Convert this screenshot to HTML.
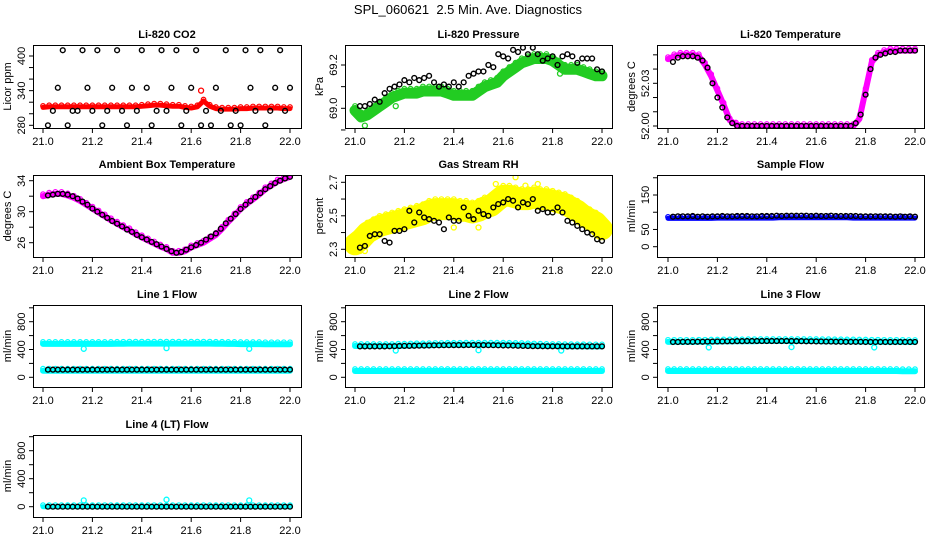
<!DOCTYPE html>
<html><head><meta charset="utf-8"><style>
html,body{margin:0;padding:0;background:#fff;}
svg{display:block;font-family:"Liberation Sans",sans-serif;}
</style></head><body>
<svg id="chart" width="936" height="540" viewBox="0 0 936 540" xmlns="http://www.w3.org/2000/svg">
<rect width="936" height="540" fill="#fff"/>
<text x="468" y="14" text-anchor="middle" font-size="13" style="white-space:pre" xml:space="preserve">SPL_060621  2.5 Min. Ave. Diagnostics</text>
</svg>
<script>
// shared x values
const bandT = [21.000,21.025,21.050,21.075,21.100,21.125,21.150,21.175,21.200,21.225,21.250,21.275,21.300,21.325,21.350,21.375,21.400,21.425,21.450,21.475,21.500,21.525,21.550,21.575,21.600,21.625,21.650,21.675,21.700,21.725,21.750,21.775,21.800,21.825,21.850,21.875,21.900,21.925,21.950,21.975,22.000];
const blackT = [21.02,21.04,21.06,21.08,21.10,21.12,21.14,21.16,21.18,21.20,21.22,21.24,21.26,21.28,21.30,21.32,21.34,21.36,21.38,21.40,21.42,21.44,21.46,21.48,21.50,21.52,21.54,21.56,21.58,21.60,21.62,21.64,21.66,21.68,21.70,21.72,21.74,21.76,21.78,21.80,21.82,21.84,21.86,21.88,21.90,21.92,21.94,21.96,21.98,22.00];
const xTicks = [21.0,21.2,21.4,21.6,21.8,22.0];
const xTickLabels = ["21.0","21.2","21.4","21.6","21.8","22.0"];
const outlierT = [21.165,21.5,21.835];

// panel series
const co2Band = [311,312,312,312,312,312,312,312,312,312, 312,312,312,312,312,312,313,314,315,315, 314,313,313,311,310,312,322,313,309,308, 308,308,309,309,310,310,310,310,310,309, 309];
const co2Black = [280,305,345,410,280,305,305,410,345,305, 410,280,305,345,410,305,280,345,305,410, 345,280,305,410,305,345,410,280,305,345, 410,280,305,280,345,305,410,280,305,280, 410,345,305,410,280,305,345,410,305,345];
const pressBand = [68.99,68.96,68.97,68.99,69.01,69.03,69.05,69.06,69.07,69.07, 69.07,69.08,69.08,69.08,69.08,69.07,69.06,69.06,69.06,69.06, 69.08,69.10,69.11,69.12,69.15,69.17,69.19,69.21,69.22,69.23, 69.23,69.23,69.22,69.20,69.18,69.18,69.18,69.17,69.16,69.15, 69.15];
const pressBlack = [69.01,69.01,69.02,69.04,69.03,69.07,69.09,69.10,69.11,69.13, 69.12,69.14,69.13,69.14,69.15,69.12,69.10,69.11,69.10,69.12, 69.10,69.12,69.15,69.16,69.17,69.17,69.20,69.19,69.25,69.24, 69.23,69.27,69.26,69.28,69.25,69.28,69.25,69.22,69.23,69.24, 69.20,69.24,69.25,69.24,69.21,69.23,69.23,69.23,69.18,69.17];
const tempBand = [52.047,52.049,52.050,52.050,52.050,52.049,52.043,52.035,52.025,52.015, 52.004,52.001,52.0,52.0,52.0,52.0,52.0,52.0,52.0,52.0, 52.0,52.0,52.0,52.0,52.0,52.0,52.0,52.0,52.0,52.0, 52.0,52.005,52.025,52.045,52.050,52.052,52.053,52.053,52.053,52.053, 52.053];
const tempBlack = [52.045,52.048,52.049,52.049,52.049,52.048,52.046,52.041,52.030,52.020, 52.013,52.006,52.002,52.0,52.0,52.0,52.0,52.0,52.0,52.0, 52.0,52.0,52.0,52.0,52.0,52.0,52.0,52.0,52.0,52.0, 52.0,52.0,52.0,52.0,52.0,52.0,52.0,52.002,52.008,52.022, 52.040,52.048,52.050,52.051,52.052,52.052,52.053,52.053,52.053,52.053];
const ambBand = [32.0,32.2,32.3,32.3,32.1,31.8,31.4,30.9,30.4,29.9, 29.4,28.9,28.45,28.0,27.6,27.1,26.7,26.3,25.9,25.5, 25.2,24.7,24.7,24.9,25.4,25.7,26.0,26.5,27.0,27.8, 28.7,29.5,30.35,31.0,31.6,32.2,32.9,33.4,33.9,34.2, 34.5];
const ambBlack = [32.1,32.2,32.3,32.3,32.2,32.0,31.7,31.3,30.9,30.4, 30.0,29.6,29.2,28.8,28.45,28.1,27.7,27.4,27.0,26.7, 26.4,26.1,25.8,25.5,25.2,24.9,24.7,24.8,25.1,25.4, 25.7,26.0,26.4,26.8,27.2,27.8,28.5,29.1,29.7,30.35, 30.9,31.4,31.9,32.4,32.9,33.3,33.7,34.0,34.3,34.5];
const rhBand = [2.33,2.36,2.40,2.42,2.44,2.45,2.46,2.47,2.48,2.49, 2.50,2.51,2.53,2.54,2.54,2.54,2.54,2.53,2.53,2.52, 2.53,2.55,2.56,2.59,2.62,2.62,2.61,2.60,2.60,2.61, 2.60,2.60,2.59,2.58,2.57,2.55,2.53,2.50,2.48,2.46, 2.42];
const rhBlack = [2.31,2.32,2.38,2.39,2.39,2.35,2.34,2.41,2.41,2.42, 2.53,2.46,2.52,2.49,2.48,2.47,2.46,2.42,2.49,2.47, 2.47,2.55,2.50,2.48,2.53,2.51,2.50,2.55,2.57,2.58, 2.60,2.59,2.55,2.58,2.57,2.60,2.53,2.54,2.52,2.52, 2.55,2.52,2.47,2.46,2.44,2.42,2.40,2.39,2.36,2.35];
const sampBand = [82,82,82,82,82,82,82,82,83,83, 83,83,83,83,83,83,83,83,84,84, 84,84,84,84,84,84,84,84,84,84, 83,83,83,83,83,83,83,83,83,83, 83];
const sampBlack = [87,88,88,88,89,87,88,87,88,88, 89,88,88,89,89,89,88,88,89,89, 89,90,89,90,90,90,90,90,89,90, 89,89,90,89,89,89,89,89,88,88, 88,88,88,88,88,87,88,87,88,87];
const l1Upper = [480,480,480,480,480,480,480,480,480,480, 480,480,482,483,485,485,485,485,485,485, 485,485,485,485,485,485,485,485,482,482, 480,480,478,478,478,478,476,476,476,476, 476];
const l1Lower = [95,95,95,95,95,95,95,95,95,95, 95,95,95,95,95,95,95,95,95,95, 95,95,95,95,95,95,95,95,95,95, 95,95,95,95,95,95,95,95,95,95, 95];
const l1Black = [110,110,110,110,110,110,110,110,110,110, 110,110,110,110,110,110,110,110,110,110, 110,110,110,110,110,110,110,110,110,110, 110,110,110,110,110,110,110,110,110,110, 110,110,110,110,110,110,110,110,110,110];
const l1Out = [410,420,410];
const l2Upper = [450,450,450,450,450,450,450,455,455,458, 460,460,462,465,465,468,468,468,470,470, 470,470,470,470,470,468,466,464,460,458, 455,452,450,450,448,448,446,446,445,445, 445];
const l2Lower = [90,90,90,90,90,90,90,90,90,90, 90,90,90,90,90,90,90,90,90,90, 90,90,90,90,90,90,90,90,90,90, 90,90,90,90,90,90,90,90,90,90, 90];
const l2Black = [445,445,445,445,445,445,446,448,450,452, 452,454,455,456,458,460,460,462,462,463, 463,463,464,464,464,463,462,462,460,458, 458,456,454,452,450,448,448,447,446,446, 446,446,445,445,445,445,445,445,445,445];
const l2Out = [385,390,385];
const l3Upper = [510,510,510,510,510,512,512,514,514,516, 516,518,518,520,520,522,522,522,522,522, 522,522,522,522,522,520,520,518,518,516, 516,514,514,512,512,510,510,510,510,508, 508];
const l3Lower = [90,90,90,90,90,90,90,90,90,90, 90,90,90,90,90,90,90,90,90,90, 90,90,90,90,90,90,90,90,90,90, 90,90,90,90,90,90,90,90,88,88, 88];
const l3Black = [508,508,510,510,510,512,512,514,514,516, 516,518,518,520,520,522,522,522,522,522, 522,522,522,522,522,520,520,518,518,516, 516,514,514,512,512,510,510,510,510,508, 508,508,508,508,508,508,508,508,508,508];
const l3Out = [430,435,430];
const l4Band = [0,0,0,0,0,0,0,0,0,0, 0,0,0,0,0,0,0,0,0,0, 0,0,0,0,0,0,0,0,0,0, 0,0,0,0,0,0,0,0,0,0, 0];
const l4Black = [0,0,0,0,0,0,0,0,0,0, 0,0,0,0,0,0,0,0,0,0, 0,0,0,0,0,0,0,0,0,0, 0,0,0,0,0,0,0,0,0,0, 0,0,0,0,0,0,0,0,0,0];
const l4Out = [90,100,90];

const flowTicks = [0,200,400,600,800,1000];
const flowLabels = ["0","","400","","800",""];

const NS = "http://www.w3.org/2000/svg";
const svg = document.getElementById('chart');
function el(tag, attrs, parent){
  const e = document.createElementNS(NS, tag);
  for (const k in attrs) e.setAttribute(k, attrs[k]);
  (parent||svg).appendChild(e);
  return e;
}
const cols = [{l:33,r:301,x0:43,x1:290},{l:345,r:612,x0:355,x1:602},{l:657,r:924,x0:668,x1:915}];
const rows = [{t:45,b:128},{t:175,b:257},{t:305,b:387},{t:435,b:517}];

function panel(cfg){
  const c = cols[cfg.col], r = rows[cfg.row];
  const g = el('g', {});
  
  
  const xs = v => c.x0 + (v - 21) * (c.x1 - c.x0);
  const ys = v => cfg.p1 + (v - cfg.v1) * (cfg.p2 - cfg.p1) / (cfg.v2 - cfg.v1);
  const clip = 'clip-' + cfg.name;
  const cp = el('clipPath', {id: clip}, g);
  el('rect', {x:c.l, y:r.t, width:c.r-c.l, height:r.b-r.t}, cp);
  const plot = el('g', {'clip-path':'url(#'+clip+')'}, g);
  (cfg.bands||[]).forEach(b => {
    const pts = bandT.map((t,i) => xs(t).toFixed(1)+','+ys(b.vals[i]).toFixed(1)).join(' ');
    const pl = el('polyline', {points:pts, fill:'none', stroke:b.color, 'stroke-width':b.w, 'stroke-linejoin':'round', 'stroke-linecap':'round'}, plot);
    
    
    bandT.forEach((t,i) => {
      const cc = el('circle', {cx:xs(t), cy:ys(b.vals[i]) - b.w/2 + 1, r:2.3, fill:'none', stroke:b.color, 'stroke-width':1.2}, plot);
      
      
    });
  });
  (cfg.outliers||[]).forEach(o => {
    o.t.forEach((t,i) => {
      const cc = el('circle', {cx:xs(t), cy:ys(o.vals[i]), r:2.5, fill:'none', stroke:o.color, 'stroke-width':1.3}, plot);
      
      
    });
  });
  if (cfg.black) blackT.forEach((t,i) => {
    const cc = el('circle', {cx:xs(t), cy:ys(cfg.black[i]), r:2.4, fill:'none', stroke:'#000', 'stroke-width':1.4}, plot);
    
    
  });
  const bx = el('rect', {x:c.l+0.5, y:r.t+0.5, width:c.r-c.l, height:r.b-r.t, fill:'none', stroke:'#000', 'stroke-width':1}, g);
  
  
  const tt = el('text', {x:(c.l+c.r)/2, y:r.t-7, 'text-anchor':'middle', 'font-size':11, 'font-weight':'bold'}, g);
  tt.textContent = cfg.title;
  
  
  xTicks.forEach((v,i) => {
    const x = xs(v);
    el('line', {x1:x, x2:x, y1:r.b+0.5, y2:r.b+5, stroke:'#000'}, g);
    const lb = el('text', {x:x, y:r.b+17, 'text-anchor':'middle', 'font-size':11}, g);
    lb.textContent = xTickLabels[i];
    
    
  });
  cfg.yTicks.forEach((v,i) => {
    const y = ys(v);
    el('line', {x1:c.l+0.5, x2:c.l-4, y1:y, y2:y, stroke:'#000'}, g);
    if (cfg.yLabels[i]) {
      const lb = el('text', {x:0, y:0, 'text-anchor':'middle', 'font-size':11, transform:'translate('+(c.l-8)+','+y+') rotate(-90)'}, g);
      lb.textContent = cfg.yLabels[i];
      
      
    }
  });
  const yt = el('text', {x:0, y:0, 'text-anchor':'middle', 'font-size':11, transform:'translate('+(c.l-22)+','+((r.t+r.b)/2)+') rotate(-90)'}, g);
  yt.textContent = cfg.ylab;
  
  
}

panel({name:'co2-panel', col:0,row:0,title:'Li-820 CO2', ylab:'Licor ppm', v1:280,p1:125.3,v2:400,p2:56,
  yTicks:[280,300,320,340,360,380,400], yLabels:['280','','','340','','','400'],
  bands:[{vals:co2Band,color:'#ff0000',w:5}], black:co2Black,
  outliers:[{t:[21.64],vals:[340],color:'#ff0000'}]});
panel({name:'pressure-panel', col:1,row:0,title:'Li-820 Pressure', ylab:'kPa', v1:69.0,p1:108.3,v2:69.2,p2:65,
  yTicks:[68.9,69.0,69.1,69.2], yLabels:['','69.0','','69.2'],
  bands:[{vals:pressBand,color:'#22cc22',w:11}], black:pressBlack,
  outliers:[{t:[21.04,21.165,21.83],vals:[68.92,69.01,69.16],color:'#22cc22'}]});
panel({name:'li820-temperature-panel', col:2,row:0,title:'Li-820 Temperature', ylab:'degrees C', v1:52.00,p1:126,v2:52.03,p2:83.3,
  yTicks:[52.00,52.01,52.02,52.03,52.04,52.05], yLabels:['52.00','','','52.03','',''],
  bands:[{vals:tempBand,color:'#ff00ff',w:6}], black:tempBlack});
panel({name:'ambient-temperature-panel', col:0,row:1,title:'Ambient Box Temperature', ylab:'degrees C', v1:26,p1:242.7,v2:34,p2:180.7,
  yTicks:[26,28,30,32,34], yLabels:['26','','30','','34'],
  bands:[{vals:ambBand,color:'#ff00ff',w:6}], black:ambBlack});
panel({name:'rh-panel', col:1,row:1,title:'Gas Stream RH', ylab:'percent', v1:2.3,p1:249.3,v2:2.7,p2:182.3,
  yTicks:[2.3,2.4,2.5,2.6,2.7], yLabels:['2.3','','2.5','','2.7'],
  bands:[{vals:rhBand,color:'#ffff00',w:22}], black:rhBlack,
  outliers:[{t:[21.02,21.04,21.4,21.5,21.57,21.65,21.69,21.74],vals:[2.29,2.29,2.43,2.43,2.69,2.73,2.68,2.69],color:'#ffff00'}]});
panel({name:'sample-flow-panel', col:2,row:1,title:'Sample Flow', ylab:'ml/min', v1:0,p1:246.7,v2:150,p2:195,
  yTicks:[0,50,100,150,200], yLabels:['0','50','','150',''],
  bands:[{vals:sampBand,color:'#0000ff',w:5}], black:sampBlack});
panel({name:'line1-flow-panel', col:0,row:2,title:'Line 1 Flow', ylab:'ml/min', v1:0,p1:377.3,v2:800,p2:321.7,
  yTicks:flowTicks, yLabels:flowLabels,
  bands:[{vals:l1Upper,color:'#00ffff',w:6},{vals:l1Lower,color:'#00ffff',w:6}], black:l1Black,
  outliers:[{t:outlierT,vals:l1Out,color:'#00ffff'}]});
panel({name:'line2-flow-panel', col:1,row:2,title:'Line 2 Flow', ylab:'ml/min', v1:0,p1:377.3,v2:800,p2:321.7,
  yTicks:flowTicks, yLabels:flowLabels,
  bands:[{vals:l2Upper,color:'#00ffff',w:6},{vals:l2Lower,color:'#00ffff',w:6}], black:l2Black,
  outliers:[{t:outlierT,vals:l2Out,color:'#00ffff'}]});
panel({name:'line3-flow-panel', col:2,row:2,title:'Line 3 Flow', ylab:'ml/min', v1:0,p1:377.3,v2:800,p2:321.7,
  yTicks:flowTicks, yLabels:flowLabels,
  bands:[{vals:l3Upper,color:'#00ffff',w:6},{vals:l3Lower,color:'#00ffff',w:6}], black:l3Black,
  outliers:[{t:outlierT,vals:l3Out,color:'#00ffff'}]});
panel({name:'line4-flow-panel', col:0,row:3,title:'Line 4 (LT) Flow', ylab:'ml/min', v1:0,p1:506.7,v2:800,p2:450.7,
  yTicks:flowTicks, yLabels:flowLabels,
  bands:[{vals:l4Band,color:'#00ffff',w:5}], black:l4Black,
  outliers:[{t:outlierT,vals:l4Out,color:'#00ffff'}]});
</script>
</body></html>
